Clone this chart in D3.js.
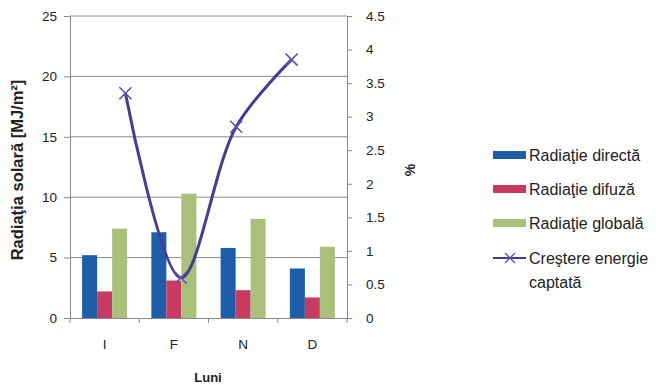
<!DOCTYPE html>
<html>
<head>
<meta charset="utf-8">
<script src="https://cdn.jsdelivr.net/npm/d3@7"></script>
<style>
  html, body { margin: 0; padding: 0; background: #fff; }
  svg { display: block; }
  text { font-family: "Liberation Sans", Arial, sans-serif; fill: #222; }
</style>
</head>
<body>
<svg id="chart" width="656" height="385"></svg>
<script>
// Months (categories)
const months = ["I", "F", "N", "D"];
// Solar radiation components [MJ/m²]
const seriesNames = ["Radiaţie directă", "Radiaţie difuză", "Radiaţie globală"];
const direct = [5.2, 7.1, 5.8, 4.1];
const diffuse = [2.2, 3.1, 2.3, 1.7];
const global = [7.4, 10.3, 8.2, 5.9];
// Increase in captured energy [%]
const lineName = ["Creştere energie", "captată"];
const gain = [3.35, 0.6, 2.85, 3.85];
// Axis ticks
const leftTicks = [0, 5, 10, 15, 20, 25];
const rightTicks = [0, 0.5, 1, 1.5, 2, 2.5, 3, 3.5, 4, 4.5];

const colors = ["#1c5ea9", "#c93a62", "#a9c07a"];
const lineColor = "#463c98";

const svg = d3.select("#chart");
const plotL = 70, plotR = 347, plotT = 16, plotB = 318;

const x0 = d3.scaleBand().domain(months).range([plotL, plotR]).paddingInner(0.35).paddingOuter(0.175);
const x1 = d3.scaleBand().domain(d3.range(3)).range([0, x0.bandwidth()]);
const xLine = d3.scalePoint().domain(months).range([plotL, plotR]).padding(1);
const yL = d3.scaleLinear().domain([0, 25]).range([plotB, plotT]);
const yR = d3.scaleLinear().domain([0, 4.5]).range([plotB, plotT]);

// Horizontal gridlines
svg.append("g").selectAll("line").data(leftTicks.slice(1)).join("line")
  .attr("x1", plotL).attr("x2", plotR)
  .attr("y1", d => yL(d)).attr("y2", d => yL(d))
  .attr("stroke", "#8a8a8a").attr("stroke-width", 1);

// Bars
const values = [direct, diffuse, global];
const g = svg.append("g");
months.forEach((m, i) => {
  values.forEach((arr, s) => {
    g.append("rect")
      .attr("x", x0(m) + x1(s))
      .attr("width", x1.bandwidth())
      .attr("y", yL(arr[i]))
      .attr("height", yL(0) - yL(arr[i]))
      .attr("fill", colors[s]);
  });
});

const tickFont = "'Open Sans', sans-serif";

// Left axis
const axL = svg.append("g").attr("transform", `translate(${plotL},0)`)
  .call(d3.axisLeft(yL).tickValues(leftTicks).tickSize(6).tickPadding(7));
axL.select(".domain").attr("stroke", "#8a8a8a");
axL.selectAll(".tick line").attr("stroke", "#8a8a8a");
axL.selectAll("text").attr("font-size", 13.5).attr("fill", "#222").attr("font-family", tickFont);

// Right axis
const axR = svg.append("g").attr("transform", `translate(${plotR},0)`)
  .call(d3.axisRight(yR).tickValues(rightTicks).tickFormat(d3.format("")).tickSize(5).tickPadding(14));
axR.select(".domain").attr("stroke", "#8a8a8a");
axR.selectAll(".tick line").attr("stroke", "#8a8a8a");
axR.selectAll("text").attr("font-size", 13.5).attr("fill", "#222").attr("font-family", tickFont);

// Bottom axis
const axB = svg.append("g").attr("transform", `translate(0,${plotB})`)
  .call(d3.axisBottom(x0).tickSize(0).tickPadding(21));
axB.select(".domain").attr("stroke", "#8a8a8a");
axB.selectAll("text").attr("font-size", 13.5).attr("fill", "#222").attr("font-family", tickFont);
// Tick marks between categories
svg.append("g").selectAll("line").data(d3.range(months.length + 1)).join("line")
  .attr("x1", d => plotL + d * x0.step()).attr("x2", d => plotL + d * x0.step())
  .attr("y1", plotB).attr("y2", plotB + 5)
  .attr("stroke", "#8a8a8a");

// Line series
const line = d3.line()
  .x((d, i) => xLine(months[i]))
  .y(d => yR(d))
  .curve(d3.curveCatmullRom.alpha(0.5));
svg.append("path").datum(gain)
  .attr("d", line)
  .attr("fill", "none")
  .attr("stroke", lineColor)
  .attr("stroke-width", 3);
const ms = 6;
svg.append("g").selectAll("path").data(gain).join("path")
  .attr("d", (d, i) => {
    const cx = xLine(months[i]), cy = yR(d);
    return `M${cx - ms},${cy - ms}L${cx + ms},${cy + ms}M${cx - ms},${cy + ms}L${cx + ms},${cy - ms}`;
  })
  .attr("stroke", "#5a4fb0").attr("stroke-width", 1.5).attr("fill", "none");

// Axis titles
svg.append("text")
  .attr("transform", `translate(23,170) rotate(-90)`)
  .attr("text-anchor", "middle")
  .attr("font-size", 16.5).attr("font-weight", "bold")
  .text("Radiaţia solară [MJ/m²]");
svg.append("text")
  .attr("transform", `translate(415,170) rotate(-90)`)
  .attr("text-anchor", "middle")
  .attr("font-size", 14).attr("font-weight", "bold")
  .text("%");
svg.append("text")
  .attr("x", 208).attr("y", 382)
  .attr("text-anchor", "middle")
  .attr("font-size", 13).attr("font-weight", "bold")
  .attr("font-family", tickFont)
  .text("Luni");

// Legend
const lg = svg.append("g").attr("transform", "translate(493,0)");
const rowsY = [155, 189, 223];
seriesNames.forEach((name, i) => {
  lg.append("rect").attr("x", 0).attr("y", rowsY[i] - 4).attr("width", 33).attr("height", 8).attr("fill", colors[i]);
  lg.append("text").attr("x", 36).attr("y", rowsY[i] + 6).attr("font-size", 16).text(name);
});
lg.append("line").attr("x1", 0).attr("x2", 33).attr("y1", 258).attr("y2", 258)
  .attr("stroke", lineColor).attr("stroke-width", 2);
lg.append("path").attr("d", "M12,253L22,263M12,263L22,253").attr("stroke", "#5a4fb0").attr("stroke-width", 1.3);
lg.append("text").attr("x", 36).attr("y", 264).attr("font-size", 16).text(lineName[0]);
lg.append("text").attr("x", 36).attr("y", 288).attr("font-size", 16).text(lineName[1]);
</script>
</body>
</html>
